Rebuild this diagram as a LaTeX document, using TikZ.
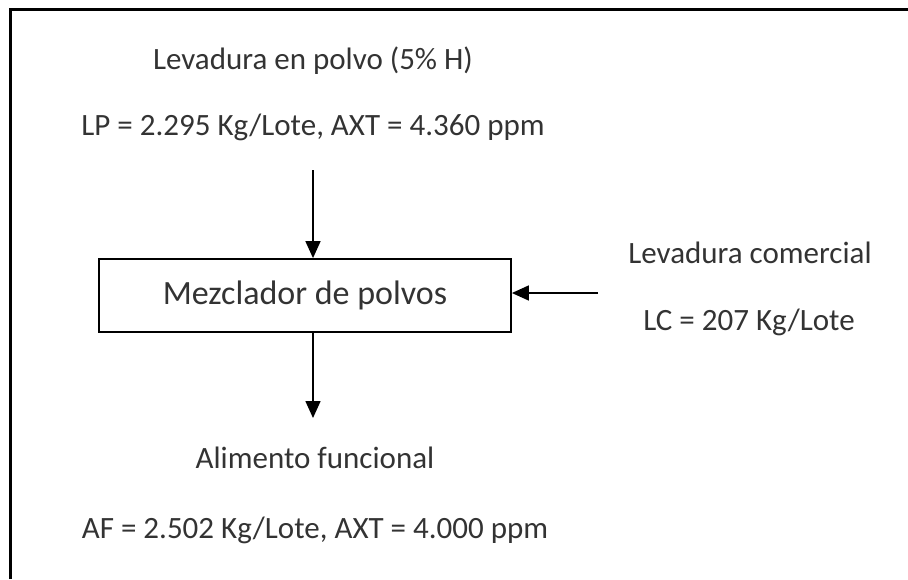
\documentclass[tikz,border=0pt]{standalone}
\usepackage{fontspec}
\setmainfont{Carlito}
\usetikzlibrary{arrows.meta}
\begin{document}
\begin{tikzpicture}[x=1pt,y=-1pt,
  lbl/.style={anchor=base,inner sep=0pt,text=black!80,font=\fontsize{31}{37}\selectfont},
  boxlbl/.style={draw=black,line width=1.8pt,minimum width=412pt,minimum height=73pt,inner sep=0pt,text=black!80,font=\fontsize{34}{40}\selectfont},
  flow/.style={line width=1.6pt,-{Triangle[length=17pt,width=15pt]}},
  frame/.style={line width=3pt}]
\useasboundingbox (0,0) rectangle (908,579);
\draw[frame] (10,579) -- (10,9) -- (908,9);
\node[lbl] (t1) at (313,69) {Levadura en polvo (5\% H)};
\node[lbl] (t2) at (313,135) {LP = 2.295 Kg/Lote, AXT = 4.360 ppm};
\node[boxlbl] (mix) at (305,295.5) {Mezclador de polvos};
\node[lbl] (c1) at (750,263) {Levadura comercial};
\node[lbl] (c2) at (749,330) {LC = 207 Kg/Lote};
\node[lbl] (a1) at (315,468) {Alimento funcional};
\node[lbl] (a2) at (315,538) {AF = 2.502 Kg/Lote, AXT = 4.000 ppm};
\coordinate (inTop) at (313,170);
\coordinate (inRight) at (598,293);
\coordinate (outBot) at (313,418);
\draw[flow] (inTop) -- (inTop |- mix.north);
\draw[flow] (inRight) -- (mix.east |- inRight);
\draw[flow] (inTop |- mix.south) -- (outBot);
\end{tikzpicture}
\end{document}
